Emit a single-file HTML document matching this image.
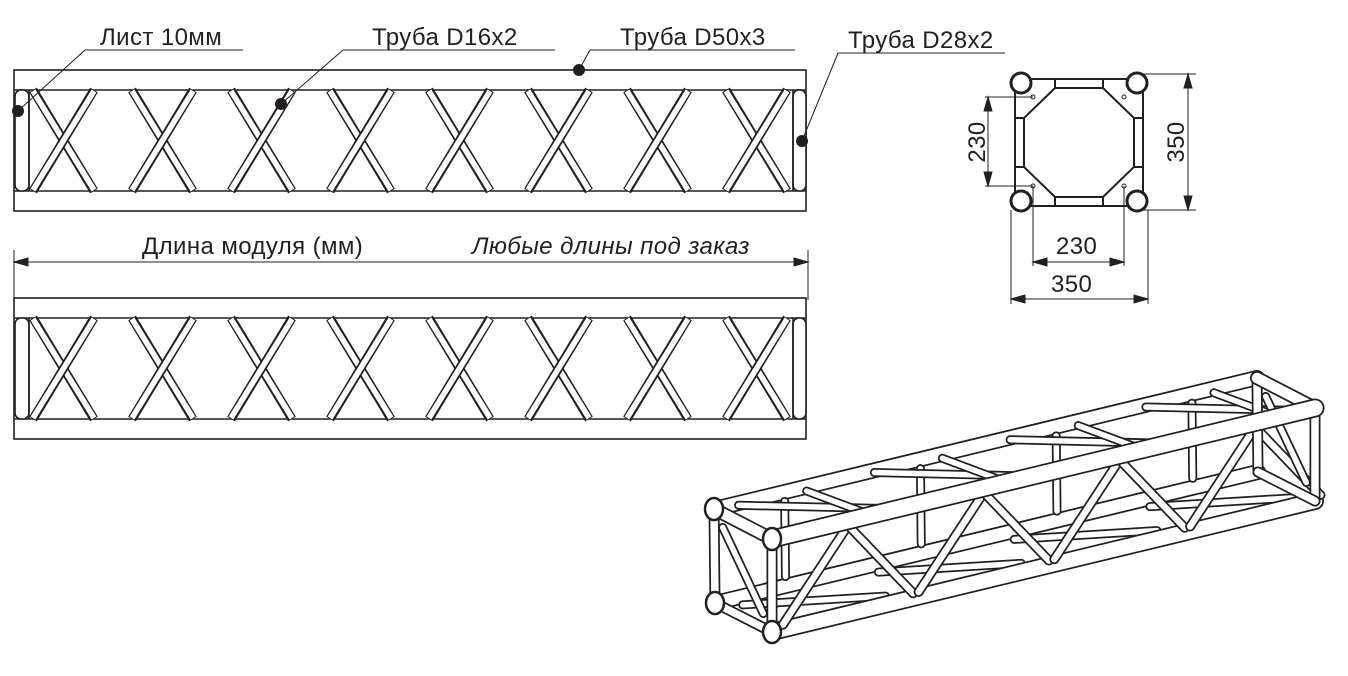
<!DOCTYPE html>
<html><head><meta charset="utf-8"><style>
html,body{margin:0;padding:0;background:#fff}
svg{display:block}
text{font-family:"Liberation Sans",sans-serif;fill:#231f20;letter-spacing:0.4px}
</style></head><body>
<svg id="s" width="1348" height="676" viewBox="0 0 1348 676" xmlns="http://www.w3.org/2000/svg">
<g id="g2d" fill="none" stroke="#231f20" stroke-width="1.6"></g>
<g id="g3d" fill="none" stroke-linecap="round"></g>
<g fill="none" stroke="#231f20" stroke-width="1">
 <line x1="85" y1="50" x2="243" y2="50"/><line x1="85" y1="50" x2="18" y2="111"/>
 <line x1="343" y1="50" x2="555" y2="50"/><line x1="343" y1="50" x2="281" y2="104"/>
 <line x1="590" y1="50" x2="795" y2="50"/><line x1="590" y1="50" x2="579" y2="70"/>
 <line x1="838" y1="53" x2="1005" y2="53"/><line x1="838" y1="53" x2="802" y2="141"/>
</g>
<g fill="#231f20"><circle cx="18" cy="111" r="6"/><circle cx="281" cy="104" r="6"/><circle cx="579" cy="70" r="6"/><circle cx="802" cy="141" r="6"/></g>
<text x="100" y="45" font-size="24">Лист 10мм</text>
<text x="372" y="45" font-size="24">Труба D16x2</text>
<text x="620" y="45" font-size="24">Труба D50x3</text>
<text x="848" y="48" font-size="24">Труба D28x2</text>
<text x="142" y="254" font-size="24">Длина модуля (мм)</text>
<text x="472" y="254" font-size="24" font-style="italic">Любые длины под заказ</text>
<g stroke="#231f20" stroke-width="1" fill="#231f20">
 <line x1="14" y1="262" x2="808" y2="262"/><line x1="14" y1="250" x2="14" y2="300"/><line x1="808" y1="250" x2="808" y2="300"/>
 <path d="M14 262 l14 -4 v8z M808 262 l-14 -4 v8z"/>
</g>
<!-- cross section -->
<g fill="none" stroke="#231f20" stroke-width="2">
 <rect x="1015" y="79" width="128" height="127"/>
 <path d="M1055 88 H1103 L1134 118 V167 L1103 197 H1055 L1024 167 V118 Z"/>
 <line x1="1055" y1="79" x2="1055" y2="88"/><line x1="1103" y1="79" x2="1103" y2="88"/>
 <line x1="1055" y1="197" x2="1055" y2="206"/><line x1="1103" y1="197" x2="1103" y2="206"/>
 <line x1="1015" y1="118" x2="1024" y2="118"/><line x1="1015" y1="167" x2="1024" y2="167"/>
 <line x1="1134" y1="118" x2="1143" y2="118"/><line x1="1134" y1="167" x2="1143" y2="167"/>
 <g fill="#fff" stroke-width="3"><circle cx="1021" cy="83" r="10"/><circle cx="1137" cy="83" r="10"/><circle cx="1021" cy="201" r="10"/><circle cx="1137" cy="201" r="10"/></g>
 <g stroke-width="1"><circle cx="1033" cy="97" r="2"/><circle cx="1124" cy="97" r="2"/><circle cx="1033" cy="186" r="2"/><circle cx="1124" cy="186" r="2"/></g>
</g>
<g stroke="#231f20" stroke-width="1" fill="#231f20">
 <line x1="1140" y1="74" x2="1196" y2="74"/><line x1="1140" y1="210" x2="1196" y2="210"/>
 <line x1="1188" y1="74" x2="1188" y2="210"/><path d="M1188 74 l-4 14 h8z M1188 210 l-4 -14 h8z"/>
 <line x1="985" y1="97" x2="1033" y2="97"/><line x1="985" y1="186" x2="1033" y2="186"/>
 <line x1="988" y1="97" x2="988" y2="186"/><path d="M988 97 l-4 14 h8z M988 186 l-4 -14 h8z"/>
 <line x1="1033" y1="186" x2="1033" y2="266"/><line x1="1124" y1="186" x2="1124" y2="266"/>
 <line x1="1033" y1="262" x2="1124" y2="262"/><path d="M1033 262 l14 -4 v8z M1124 262 l-14 -4 v8z"/>
 <line x1="1011" y1="210" x2="1011" y2="304"/><line x1="1148" y1="210" x2="1148" y2="304"/>
 <line x1="1011" y1="299" x2="1148" y2="299"/><path d="M1011 299 l14 -4 v8z M1148 299 l-14 -4 v8z"/>
</g>
<text x="1056" y="254" font-size="24">230</text>
<text x="1051" y="292" font-size="24">350</text>
<text transform="translate(1184,142) rotate(-90)" text-anchor="middle" font-size="24">350</text>
<text transform="translate(985,142) rotate(-90)" text-anchor="middle" font-size="24">230</text>
<script>
var NS="http://www.w3.org/2000/svg";
function el(p,n,a){var e=document.createElementNS(NS,n);for(var k in a)e.setAttribute(k,a[k]);p.appendChild(e);return e;}
var g=document.getElementById("g2d");
function truss(y0){
 el(g,"rect",{x:14,y:y0,width:792,height:141});
 el(g,"line",{x1:14,y1:y0+20,x2:806,y2:y0+20});
 el(g,"line",{x1:14,y1:y0+121,x2:806,y2:y0+121});
 for(var i=0;i<8;i++){
  var x=33+i*99;
  var pairs=[[x,y0+20,x+61,y0+121],[x+61,y0+20,x,y0+121]];
  pairs.forEach(function(p){
   el(g,"line",{x1:p[0],y1:p[1],x2:p[2],y2:p[3],"stroke-width":9});
   el(g,"line",{x1:p[0],y1:p[1]+1,x2:p[2],y2:p[3]-1,stroke:"#fff","stroke-width":5.5});
  });
 }
 el(g,"rect",{x:15,y:y0+20,width:14,height:101,rx:6,fill:"#fff"});
 el(g,"rect",{x:793,y:y0+20,width:13,height:101,rx:6,fill:"#fff"});
 el(g,"line",{x1:29,y1:y0+20,x2:29,y2:y0+121});
 el(g,"line",{x1:793,y1:y0+20,x2:793,y2:y0+121});
}
truss(70);truss(298);
var g3=document.getElementById("g3d");
function tube(a,b,w){
 el(g3,"line",{x1:a[0],y1:a[1],x2:b[0],y2:b[1],stroke:"#231f20","stroke-width":w});
 el(g3,"line",{x1:a[0],y1:a[1],x2:b[0],y2:b[1],stroke:"#fff","stroke-width":w-3.5});
}
var BT0=[714,509],FT0=[772,539],BB0=[715,603],FB0=[772,632];
var L=[543,-131];
function add(p,t){return [p[0]+L[0]*t,p[1]+L[1]*t];}
function lerp(a,b,u){return [a[0]+(b[0]-a[0])*u,a[1]+(b[1]-a[1])*u];}
tube(BB0,add(BB0,1),16);
tube(BT0,add(BT0,1),16);
for(var i=0;i<4;i++){
 var t=i/4+0.03,t2=t+0.2;
 tube(lerp(add(BB0,t),add(FB0,t),0.2),lerp(add(BB0,t2),add(FB0,t2),0.8),9);
 tube(lerp(add(BT0,t+0.1),add(BB0,t+0.1),0.1),lerp(add(BT0,t+0.1),add(BB0,t+0.1),0.9),9);
}
tube(FB0,add(FB0,1),18);
for(var i=0;i<4;i++){
 var t=i/4+0.04,t2=t+0.18;
 tube(lerp(add(BT0,t),add(FT0,t),0.05),lerp(add(BT0,t2),add(FT0,t2),0.95),9);
 tube(lerp(add(BT0,t+0.12),add(FT0,t+0.12),0.1),lerp(add(BT0,t+0.14),add(FT0,t+0.14),0.9),9);
}
for(var i=0;i<4;i++){
 var t=i/4+0.02;
 tube(lerp(add(FB0,t),add(FT0,t),0.05),lerp(add(FB0,t+0.12),add(FT0,t+0.12),0.95),10);
 tube(lerp(add(FT0,t+0.12),add(FB0,t+0.12),0.05),lerp(add(FT0,t+0.24),add(FB0,t+0.24),0.95),10);
}
var ends=[[BT0,FT0,BB0,FB0],[add(BT0,1),add(FT0,1),add(BB0,1),add(FB0,1)]];
ends.forEach(function(e){
 tube(e[0],e[2],11);tube(e[1],e[3],11);tube(e[2],e[3],11);tube(e[0],e[1],14);
 tube(lerp(e[0],e[3],0.15),lerp(e[0],e[3],0.85),9);
});
tube(FT0,add(FT0,1),19);
[BT0,FT0,BB0,FB0].forEach(function(p){el(g3,"ellipse",{cx:p[0],cy:p[1],rx:9,ry:11,fill:"#fff",stroke:"#231f20","stroke-width":2.5});});
</script>
</svg>
</body></html>
